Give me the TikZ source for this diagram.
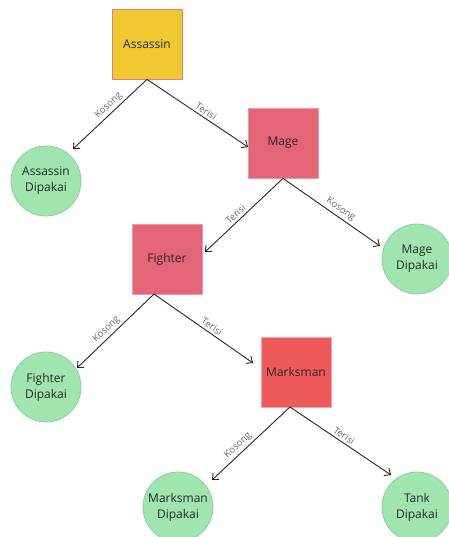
\documentclass[tikz,border=0pt]{standalone}
\usepackage{fontspec}
\setmainfont{Open Sans}
\definecolor{yel}{HTML}{F0C832}
\definecolor{yelb}{HTML}{E08078}
\definecolor{pink}{HTML}{E36577}
\definecolor{pinkb}{HTML}{EE9AA4}
\definecolor{red}{HTML}{EE5A5C}
\definecolor{redb}{HTML}{F2A8AA}
\definecolor{grn}{HTML}{A0E5B0}
\definecolor{grnb}{HTML}{8CD09C}
\definecolor{lbl}{HTML}{666666}
\usetikzlibrary{arrows.meta}
\tikzset{
  box/.style={draw, line width=0.8pt, minimum width=70pt, minimum height=70pt, inner sep=0pt, font=\fontsize{12}{16}\selectfont, text=black!85},
  leaf/.style={draw=grnb, fill=grn, line width=0.8pt, circle, minimum size=70pt, inner sep=0pt, align=center, font=\fontsize{12}{16}\selectfont, text=black!85},
  edge/.style={draw=black!85, line width=0.9pt, -{Straight Barb[length=5pt,width=9pt]}},
  elbl/.style={sloped, above=2pt, font=\fontsize{9.5}{10}\selectfont, text=lbl, inner sep=0.5pt}
}
\begin{document}
\begin{tikzpicture}[x=1pt,y=-1pt]
\useasboundingbox (0,0) rectangle (448,537);
\node[box, fill=yel, draw=yelb] (assassin) at (147,44) {Assassin};
\node[box, fill=pink, draw=pinkb] (mage) at (283,143) {Mage};
\node[box, fill=pink, draw=pinkb] (fighter) at (167,259) {Fighter};
\node[box, fill=red, draw=redb] (marksman) at (296,372) {Marksman};
\node[leaf] (ad) at (46,181) {Assassin\\Dipakai};
\node[leaf] (md) at (417,259) {Mage\\Dipakai};
\node[leaf] (fd) at (46,387) {Fighter\\Dipakai};
\node[leaf] (mkd) at (178,507) {Marksman\\Dipakai};
\node[leaf] (td) at (417,507) {Tank\\Dipakai};
\coordinate (a1) at (73,149);
\coordinate (a2) at (248,147);
\coordinate (m1) at (205,252);
\coordinate (m2) at (380,246);
\coordinate (fs) at (154,294);
\coordinate (f1) at (77,368);
\coordinate (f2) at (253,363);
\coordinate (ks) at (290,407);
\coordinate (k1) at (212,480);
\coordinate (k2) at (391,475);
\draw[edge] (assassin.south) -- node[elbl, pos=0.45] {Kosong} (a1);
\draw[edge] (assassin.south) -- node[elbl, pos=0.55] {Terisi} (a2);
\draw[edge] (mage.south) -- node[elbl, pos=0.55] {Terisi} (m1);
\draw[edge] (mage.south) -- node[elbl, pos=0.55] {Kosong} (m2);
\draw[edge] (fs) -- node[elbl, pos=0.55] {Kosong} (f1);
\draw[edge] (fs) -- node[elbl, pos=0.55] {Terisi} (f2);
\draw[edge] (ks) -- node[elbl, pos=0.6] {Kosong} (k1);
\draw[edge] (ks) -- node[elbl, pos=0.5] {Terisi} (k2);
\end{tikzpicture}
\end{document}
